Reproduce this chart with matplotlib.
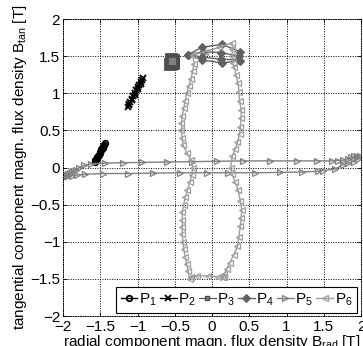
import matplotlib.pyplot as plt

plt.rcParams['font.family'] = ['Liberation Sans', 'DejaVu Sans']
plt.rcParams['mathtext.fontset'] = 'custom'
plt.rcParams['mathtext.rm'] = 'Liberation Sans'
plt.rcParams['mathtext.it'] = 'Liberation Sans:italic'
plt.rcParams['mathtext.default'] = 'regular'

# flux density trajectories (B_rad, B_tan) at six points
p1_x = [-1.57, -1.565, -1.55, -1.545, -1.53, -1.52, -1.51, -1.50, -1.49, -1.485, -1.47, -1.46, -1.45, -1.44]
p1_y = [0.08, 0.10, 0.12, 0.14, 0.15, 0.17, 0.19, 0.21, 0.23, 0.25, 0.27, 0.29, 0.31, 0.33]

p2_x = [-1.13, -1.12, -1.11, -1.10, -1.08, -1.07, -1.06, -1.04, -1.03, -1.02, -1.00, -0.99,
        -0.98, -0.96, -0.955, -0.945, -0.93]
p2_y = [0.82, 0.84, 0.86, 0.89, 0.91, 0.93, 0.96, 0.98, 1.00, 1.04, 1.06, 1.08,
        1.11, 1.13, 1.15, 1.18, 1.21]

p3_x = [-0.56, -0.55, -0.53, -0.52, -0.54, -0.53, -0.55, -0.52, -0.54]
p3_y = [1.40, 1.42, 1.45, 1.44, 1.41, 1.43, 1.46, 1.41, 1.44]

p4_x = [-0.32, -0.14, 0.13, 0.38, 0.38, 0.13, -0.13, -0.32, -0.12, 0.12, 0.36, 0.36, 0.12, -0.14, -0.32]
p4_y = [1.52, 1.62, 1.66, 1.56, 1.44, 1.41, 1.45, 1.52, 1.56, 1.55, 1.50, 1.45, 1.46, 1.49, 1.52]

p5_x = [-1.97, -1.95, -1.93, -1.90, -1.88, -1.85, -1.83, -1.78, -1.72, -1.62, -1.44, -1.20, -0.94, -0.60, -0.27,
        0.07, 0.42, 0.78, 1.14, 1.41, 1.61, 1.69, 1.76, 1.82, 1.87, 1.91, 1.95, 1.98,
        1.96, 1.90, 1.83, 1.76, 1.65, 1.49, 1.42, 1.21, 0.91, 0.58, 0.21, -0.07, -0.43,
        -0.79, -1.13, -1.46, -1.70, -1.81, -1.88, -1.93, -1.97]
p5_y = [-0.12, -0.10, -0.09, -0.07, -0.06, -0.04, -0.03, 0.00, 0.03, 0.05, 0.06, 0.065, 0.07, 0.075, 0.08,
        0.085, 0.09, 0.09, 0.09, 0.09, 0.09, 0.095, 0.10, 0.12, 0.14, 0.15, 0.16, 0.15,
        0.12, 0.08, 0.06, 0.04, -0.02, -0.04, -0.05, -0.06, -0.065, -0.07, -0.07, -0.07, -0.07,
        -0.075, -0.08, -0.08, -0.09, -0.10, -0.11, -0.12, -0.13]

p6_x = [-0.26, -0.24, -0.26, -0.28, -0.31, -0.34, -0.36, -0.38, -0.40, -0.41, -0.41, -0.40,
        -0.39, -0.34, -0.28, -0.26, -0.27, -0.30, -0.33, -0.36, -0.38, -0.40, -0.40, -0.40,
        -0.40, -0.39, -0.38, -0.36, -0.34, -0.32, -0.30, -0.28, -0.20, -0.05, 0.08, 0.13,
        0.15, 0.16, 0.16, 0.20, 0.24, 0.29, 0.34, 0.36, 0.38, 0.39, 0.40, 0.38, 0.35, 0.31,
        0.27, 0.25, 0.27, 0.31, 0.34, 0.37, 0.38, 0.39, 0.39, 0.37, 0.36, 0.35, 0.32, 0.30,
        0.28, 0.27, 0.27, 0.27, 0.10, -0.10, -0.26]
p6_y = [1.52, 1.40, 1.30, 1.20, 1.10, 1.00, 0.90, 0.80, 0.70, 0.60, 0.50, 0.40,
        0.30, 0.20, 0.10, 0.00, -0.10, -0.20, -0.30, -0.40, -0.50, -0.60, -0.70, -0.80,
        -0.90, -1.00, -1.10, -1.20, -1.30, -1.40, -1.50, -1.47, -1.46, -1.46, -1.47, -1.48,
        -1.48, -1.47, -1.44, -1.36, -1.28, -1.18, -1.06, -0.93, -0.79, -0.68, -0.57, -0.45, -0.30, -0.20,
        -0.09, 0.00, 0.15, 0.25, 0.34, 0.45, 0.55, 0.67, 0.78, 0.90, 1.02, 1.14, 1.25, 1.35,
        1.41, 1.50, 1.60, 1.68, 1.62, 1.56, 1.52]

ticks = [-2, -1.5, -1, -0.5, 0, 0.5, 1, 1.5, 2]
tick_labels = ['\u22122', '\u22121.5', '\u22121', '\u22120.5', '0', '0.5', '1', '1.5', '2']

fig = plt.figure(figsize=(3.63, 3.46), dpi=100)
ax = fig.add_axes([0.1736, 0.0867, 0.821, 0.858])

ax.plot(p1_x, p1_y, '-o', color='k', lw=1.0, ms=4, mfc='none', mew=1.3, label='P$_1$')
ax.plot(p2_x, p2_y, '-x', color='k', lw=1.0, ms=5, mew=1.3, label='P$_2$')
ax.plot(p3_x, p3_y, '-s', color='0.3', lw=0.8, ms=6.5, mfc='0.5', mew=2.0, label='P$_3$')
ax.plot(p4_x, p4_y, '-D', color='0.38', lw=1.0, ms=4, mfc='0.38', mew=0.8, label='P$_4$')
ax.plot(p5_x, p5_y, '->', color='0.5', lw=1.0, ms=4.2, mfc='none', mew=0.9, label='P$_5$')
ax.plot(p6_x, p6_y, '-<', color='0.62', lw=1.0, ms=4.2, mfc='none', mew=0.9, label='P$_6$')

ax.set_xlim(-2, 2)
ax.set_ylim(-2, 2)
ax.set_xticks(ticks)
ax.set_xticklabels(tick_labels)
ax.set_yticks(ticks)
ax.set_yticklabels(tick_labels)
ax.tick_params(direction='in', length=3, width=0.6, labelsize=11,
               top=True, right=True, pad=2)
ax.tick_params(axis='x', pad=3)
ax.grid(True, color='k', linestyle=(0, (1, 1.5)), linewidth=0.7)
for s in ax.spines.values():
    s.set_linestyle((0, (1, 1.5)))
    s.set_linewidth(0.7)

ax.set_xlabel('radial component magn. flux density B$_{rad}$ [T]', fontsize=11, labelpad=-1)
ax.set_ylabel('tangential component magn. flux density B$_{tan}$ [T]', fontsize=11, labelpad=1)

leg = ax.legend(ncol=6, loc='lower right', bbox_to_anchor=(0.987, 0.010), fontsize=11,
                handlelength=1.1, handletextpad=0.1, columnspacing=0.2, borderpad=0.32,
                borderaxespad=0, fancybox=False, framealpha=1, edgecolor='k')
leg.get_frame().set_linewidth(0.8)
# keep the square small in the key
leg.legend_handles[2].set_markersize(3)
leg.legend_handles[2].set_markeredgewidth(1.0)

fig.savefig('out.png', dpi=100)
